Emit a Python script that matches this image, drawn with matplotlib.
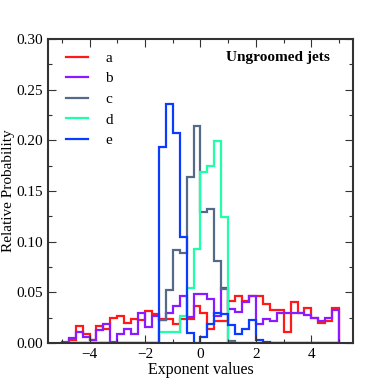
import numpy as np
import matplotlib
matplotlib.use("Agg")
import matplotlib.pyplot as plt
from matplotlib.ticker import MultipleLocator

# bins de -5 a 5, largura 0.25
bordas = np.linspace(-5, 5, 41)

serie_a = [0.000, 0.003, 0.017, 0.009, 0.003, 0.017, 0.014, 0.025, 0.027, 0.020,
           0.024, 0.023, 0.032, 0.029, 0.024, 0.024, 0.019, 0.024, 0.024, 0.037,
           0.030, 0.0135, 0.022, 0.022, 0.041, 0.046, 0.041, 0.046, 0.046, 0.038,
           0.033, 0.033, 0.011, 0.040, 0.030, 0.035, 0.025, 0.020, 0.022, 0.035]
serie_b = [0.001, 0.005, 0.011, 0.006, 0.003, 0.013, 0.019, 0.001, 0.009, 0.0135,
           0.009, 0.030, 0.0155, 0.027, 0.023, 0.030, 0.037, 0.046, 0.026, 0.048,
           0.048, 0.043, 0.027, 0.054, 0.034, 0.031, 0.040, 0.046, 0.019, 0.024,
           0.022, 0.030, 0.030, 0.030, 0.030, 0.028, 0.025, 0.022, 0.025, 0.033]
serie_c = [0] * 14 + [0.023, 0.052, 0.092, 0.0885, 0.1635, 0.2145, 0.1296, 0.132,
                      0.081, 0.053, 0.002] + [0] * 15
serie_d = [0] * 14 + [0.0105, 0.0105, 0.0105, 0.027, 0.054, 0.093, 0.169, 0.175,
                      0.199, 0.124] + [0] * 16
serie_e = [0] * 14 + [0.193, 0.236, 0.207, 0.105, 0.0095, 0.0, 0.006, 0.019,
                      0.030, 0.029, 0.018, 0.009, 0.0135, 0.023, 0.003, 0.001] + [0] * 10

rotulos = ['a', 'b', 'c', 'd', 'e']
cores = ['#ff1a1a', '#8a1aff', '#536b88', '#1fffa8', '#0a3cff']

plt.rcParams['font.family'] = ['Liberation Serif', 'DejaVu Serif']

fig = plt.figure(figsize=(3.92, 3.92), dpi=100)
ax = fig.add_axes([0.1224, 0.125, 0.778, 0.7755])

for valores, rotulo, cor in zip([serie_a, serie_b, serie_c, serie_d, serie_e], rotulos, cores):
    ax.stairs(valores, bordas, color=cor, linewidth=1.6, label=rotulo, baseline=0)

ax.set_xlim(-5.5, 5.5)
ax.set_ylim(0, 0.30)
ax.xaxis.set_major_locator(MultipleLocator(2))
ax.xaxis.set_minor_locator(MultipleLocator(1))
ax.yaxis.set_major_locator(MultipleLocator(0.05))
ax.yaxis.set_minor_locator(MultipleLocator(0.025))
ax.yaxis.set_major_formatter(matplotlib.ticker.FormatStrFormatter('%.2f'))

ax.tick_params(which='both', direction='in', top=True, right=True, labelsize=11,
               color='#333333')
ax.tick_params(which='major', length=6, width=0.8)
ax.tick_params(which='minor', length=3, width=0.8)
for s in ax.spines.values():
    s.set_color('#333333')
    s.set_linewidth(1.5)

ax.set_xlabel('Exponent values', fontsize=11.5, labelpad=1)
ax.set_ylabel('Relative Probability', fontsize=11, labelpad=1)

ax.text(0.925, 0.94, 'Ungroomed jets', transform=ax.transAxes, ha='right', va='center',
        fontsize=11, fontweight='bold')

ax.legend(loc='upper left', bbox_to_anchor=(0.02, 1.0), frameon=False, fontsize=11,
          handlelength=1.45, handletextpad=1.1, labelspacing=0.45, borderaxespad=0.4)

plt.savefig('out.png', dpi=100)
